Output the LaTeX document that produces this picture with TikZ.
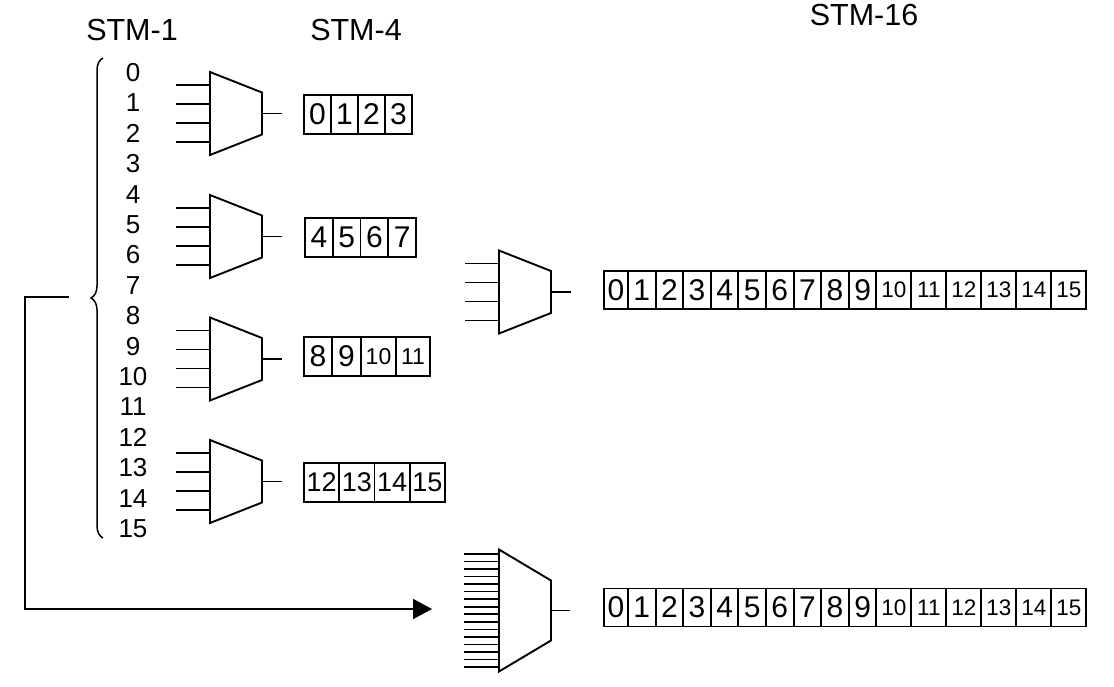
\documentclass[tikz,border=0pt]{standalone}
\usepackage{fontspec}
\setmainfont{Liberation Sans}
\usetikzlibrary{arrows.meta,decorations.pathreplacing,positioning}

\begin{document}
\begin{tikzpicture}[x=1pt,y=-1pt]
  \tikzstyle{wire}=[line width=1.9pt]
  \tikzstyle{title}=[font=\fontsize{30.5}{31}\selectfont]
  \tikzstyle{trib}=[font=\fontsize{26}{26}\selectfont, inner sep=0pt]
  \tikzstyle{muxbody}=[rectangle, minimum width=52pt, minimum height=83pt, inner sep=0pt, outer sep=0pt]
  \tikzstyle{cell}=[draw, line width=1.9pt, minimum height=39pt, inner sep=0pt, outer sep=0pt, anchor=west, font=\fontsize{30}{30}\selectfont]
  \tikzstyle{cellsm}=[cell, font=\fontsize{23}{23}\selectfont]
  \tikzstyle{cellmd}=[cell, font=\fontsize{27}{27}\selectfont]
  \tikzstyle{cellbig}=[cell, minimum height=38pt, font=\fontsize{22.5}{23}\selectfont]
  \useasboundingbox (0,0) rectangle (1114,686);

  % titles
  \node[title] (stma) at (132,30) {STM-1};
  \node[title] (stmb) at (356,30) {STM-4};
  \node[title] (stmc) at (864,15) {STM-16};

  % STM-1 tributaries
  \foreach \i in {0,...,15}
    \node[trib] (s\i) at (133,72.5+30.4*\i) {\i};
  \draw[line width=1.5pt, decorate, decoration={brace, amplitude=12pt}] (103,538) -- (103,58);

  % feed to the 16:1 mux
  \coordinate (btip) at (69,297);
  \coordinate (bend) at (25,297);
  \coordinate (arr) at (432,609);
  \draw[wire, -{Triangle[length=19pt,width=20pt]}] (btip) -- (bend) |- (arr);

  % 4:1 muxes
  \foreach \m/\x/\y in {ma/236/113.5, mb/236/236.5, mc/236/359, md/236/481.5, me/525/292} {
    \node[muxbody] (\m) at (\x,\y) {};
    \draw[wire] (\m.north west) -- ([yshift=-20.5pt]\m.north east) -- ([yshift=20.5pt]\m.south east) -- (\m.south west) -- cycle;
    \foreach \d in {-28.5,-9.5,9.5,28.5}
      \draw[wire] ([yshift=\d pt]\m.west) -- ++(-34,0);
    \draw[wire] (\m.east) -- ++(20,0);
  }

  % 16:1 mux
  \node[muxbody, minimum height=122pt] (mf) at (525,610.5) {};
  \draw[wire] (mf.north west) -- ([yshift=-31pt]mf.north east) -- ([yshift=31pt]mf.south east) -- (mf.south west) -- cycle;
  \foreach \k in {0,...,15}
    \draw[line width=1.6pt] ([yshift={(\k-7.5)*7.53}]mf.west) -- ++(-35,0);
  \draw[wire] (mf.east) -- ++(19,0);

  % STM-4 frames
  \foreach \i in {0,...,3}
    \node[cell, minimum width=27pt] (a\i) at (304+27*\i,114.5) {\i};
  \foreach \i/\n in {0/4,1/5,2/6,3/7}
    \node[cell, minimum width=27.75pt] (b\i) at (305+27.75*\i,237.5) {\n};
  \node[cell, minimum width=28pt] (c0) at (304,356.5) {8};
  \node[cell, minimum width=29pt, right=0pt of c0] (c1) {9};
  \node[cellsm, minimum width=35pt, right=0pt of c1] (c2) {10};
  \node[cellsm, minimum width=34pt, right=0pt of c2] (c3) {11};
  \foreach \i/\n in {0/12,1/13,2/14,3/15}
    \node[cellmd, minimum width=35.25pt] (d\i) at (304+35.25*\i,482.5) {\n};

  % STM-16 frames
  \foreach \r/\y in {p/290, q/607.5} {
    \node[cell, minimum width=24pt, minimum height=38pt] (\r0) at (604,\y) {0};
    \foreach \i in {1,...,9}
      \node[cell, minimum width=27.6pt, minimum height=38pt] (\r\i) at (600.4+27.6*\i,\y) {\i};
    \foreach \i in {10,...,15}
      \node[cellbig, minimum width=35pt] (\r\i) at (526.4+35*\i,\y) {\i};
  }
\end{tikzpicture}
\end{document}
